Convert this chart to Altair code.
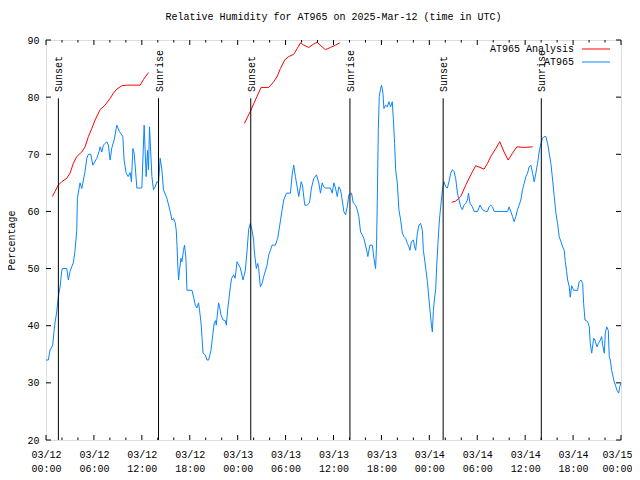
import altair as alt
import pandas as pd

FONT = "Liberation Mono"

# ---- AT965 observations (hours since 2025-03-12 00:00 UTC, RH %) ----
obs_hours = [0.00, 0.29, 0.50, 0.84, 1.00, 1.13, 1.34, 1.54, 1.76, 1.97, 2.04, 2.60, 2.80, 3.01, 3.22, 3.42, 3.64, 3.85, 3.93,
             4.26, 4.48, 4.89, 5.11, 5.31, 5.61, 5.86, 6.36, 6.69, 6.77, 6.99, 7.19, 7.40, 7.61, 7.81, 8.03, 8.24, 8.53, 8.87,
             9.19, 9.62, 9.78, 10.04, 10.29, 10.54, 10.70, 10.88, 11.04, 11.38, 12.00, 12.29, 12.54, 12.71, 12.83, 12.96,
             13.26, 13.46, 13.67, 13.89, 14.09, 14.30, 14.51, 14.71, 15.14, 15.55, 15.77, 15.97, 16.18, 16.31, 16.40, 16.52,
             16.60, 16.72, 16.90, 17.02, 17.22, 17.35, 17.52, 17.65, 18.28, 18.56, 18.69, 18.90, 19.10, 19.23, 19.41, 19.53,
             19.66, 19.94, 20.16, 20.36, 20.66, 20.91, 21.07, 21.24, 21.32, 21.61, 21.74, 21.91, 22.17, 22.45, 22.58, 22.74,
             22.92, 23.08, 23.24, 23.50, 23.67, 23.83, 23.92, 24.34, 24.67, 24.96, 25.18, 25.38, 25.59, 25.80, 26.00, 26.09,
             26.34, 26.51, 26.63, 26.84, 27.06, 27.26, 27.68, 27.89, 28.10, 28.31, 28.72, 29.01, 29.27, 29.57, 29.77, 30.11,
             30.61, 30.82, 31.02, 31.23, 31.45, 31.65, 31.95, 32.11, 32.40, 32.70, 32.99, 33.24, 33.53, 33.87, 34.16, 34.37,
             34.58, 34.78, 35.00, 35.62, 35.84, 36.04, 36.25, 36.47, 36.67, 36.88, 37.09, 37.29, 37.51, 37.72, 37.92, 38.26,
             38.47, 38.76, 38.97, 39.17, 39.39, 39.60, 39.80, 40.01, 40.23, 40.30, 40.56, 40.86, 41.06, 41.27, 41.39, 41.48,
             41.61, 41.73, 41.90, 42.02, 42.19, 42.31, 42.52, 42.74, 42.94, 43.15, 43.36, 43.49, 43.65, 43.78, 43.99, 44.19,
             44.41, 44.62, 44.82, 45.03, 45.25, 45.45, 45.57, 45.75, 46.00, 46.16, 46.29, 46.50, 46.70, 46.91, 47.13, 47.25,
             47.42, 47.58, 47.76, 47.96, 48.08, 48.26, 48.38, 48.51, 48.67, 48.80, 48.92, 49.08, 49.26, 49.42, 49.64, 49.84,
             50.05, 50.26, 50.46, 50.68, 50.89, 51.09, 51.30, 51.52, 51.72, 51.93, 52.14, 52.35, 52.56, 52.77, 52.90, 53.10,
             53.40, 53.60, 54.03, 54.35, 54.65, 55.07, 55.28, 55.48, 55.69, 55.91, 56.11, 57.79, 57.99, 58.20, 58.42, 58.62,
             58.83, 59.04, 59.24, 59.46, 59.67, 59.87, 60.09, 60.30, 60.50, 60.71, 60.93, 61.13, 61.34, 61.55, 61.75, 61.97,
             62.18, 62.38, 62.59, 62.81, 63.01, 63.22, 63.44, 63.64, 63.85, 64.06, 64.26, 64.48, 64.69, 64.89, 65.02, 65.19,
             65.32, 65.52, 65.64, 65.82, 66.07, 66.57, 66.77, 66.98, 67.20, 67.32, 67.49, 67.82, 68.03, 68.15, 68.33, 68.58,
             68.74, 68.99, 69.16, 69.41, 69.58, 69.70, 69.91, 70.03, 70.21, 70.41, 70.53, 70.66, 70.83, 71.09, 71.29, 71.50,
             71.71, 71.84, 72.00]
obs_rh = [34.0, 34.0, 35.7, 36.6, 39.0, 40.5, 42.4, 45.0, 46.8, 49.5, 50.0, 50.0, 48.0, 49.5, 50.3, 51.0, 53.2, 56.7, 62.3,
          65.0, 64.0, 67.0, 69.3, 70.0, 70.0, 68.1, 69.3, 70.7, 71.3, 70.4, 71.6, 71.9, 72.2, 71.6, 69.0, 71.1, 72.5, 75.1,
          74.0, 73.1, 69.0, 66.7, 66.1, 66.8, 65.2, 71.0, 70.2, 64.1, 64.1, 75.1, 66.1, 70.7, 67.3, 74.8,
          66.1, 63.8, 64.3, 65.2, 65.0, 69.3, 67.3, 63.8, 62.3, 60.0, 58.5, 58.8, 58.0, 56.7, 54.1, 50.0,
          48.0, 49.7, 51.8, 51.2, 53.2, 54.1, 51.8, 46.2, 46.2, 44.5, 43.6, 43.1, 44.0, 42.7, 40.5, 38.1,
          35.2, 34.9, 34.0, 34.0, 35.7, 38.7, 40.5, 40.9, 40.1, 44.0, 43.3, 41.9, 41.0, 40.9, 40.1, 42.7,
          44.8, 46.8, 48.3, 48.9, 48.3, 50.0, 51.2, 50.1, 48.0, 49.7, 53.2, 56.9, 57.9, 56.7, 55.0, 52.9,
          50.0, 50.9, 50.0, 46.8, 47.4, 48.6, 50.6, 52.4, 53.2, 54.1, 54.1, 55.3, 57.6, 60.3, 62.0, 63.2,
          63.2, 66.4, 68.1, 66.1, 64.3, 62.6, 65.2, 64.6, 61.1, 61.1, 61.5, 64.1, 65.8, 66.4, 65.0, 63.2,
          65.0, 64.3, 64.1, 64.1, 63.2, 65.0, 64.1, 62.6, 64.3, 63.8, 62.0, 60.0, 59.4, 60.8, 62.9, 63.2,
          61.5, 61.1, 60.3, 59.1, 56.4, 55.9, 55.3, 54.1, 52.7, 52.1, 54.1, 54.1, 51.8, 50.0, 54.1, 61.5,
          74.3, 80.1, 81.5, 82.1, 80.7, 78.0, 78.6, 78.3, 79.2, 78.3, 79.2, 76.3, 71.9, 67.3, 65.0, 60.3,
          58.5, 56.2, 55.6, 55.3, 54.4, 53.8, 53.2, 54.7, 55.0, 53.8, 53.2, 56.2, 57.6, 57.9, 56.7, 53.2,
          51.5, 49.7, 47.7, 44.5, 42.7, 40.1, 38.9, 42.7, 45.0, 46.5, 50.3, 54.4, 58.5, 60.8, 63.8, 65.2,
          64.3, 64.1, 65.2, 66.7, 67.3, 67.0, 65.8, 63.2, 62.0, 60.8, 60.3, 61.1, 61.4, 62.0, 63.2, 61.4,
          60.8, 60.0, 60.0, 61.1, 60.3, 60.0, 60.0, 60.8, 61.1, 60.8, 60.0, 60.0, 60.8, 60.0, 59.1, 58.2,
          59.1, 60.3, 61.1, 62.0, 63.8, 64.9, 66.1, 66.7, 67.8, 68.1, 66.7, 65.2, 66.7, 68.4, 70.4, 71.9,
          72.8, 73.1, 73.1, 71.9, 70.2, 68.4, 65.5, 62.6, 59.7, 57.9, 55.6, 54.7, 53.8, 53.2, 51.2, 49.5,
          48.0, 46.8, 45.0, 47.0, 46.2, 46.2, 47.7, 48.0, 47.4, 43.9, 41.0, 40.7, 39.8, 36.9, 35.2, 37.8,
          37.5, 36.3, 36.9, 37.5, 38.1, 36.6, 35.2, 38.7, 39.8, 39.2, 34.6, 34.0, 32.2, 30.5, 29.6, 28.7,
          28.2, 29.3, 29.9]

# ---- AT965 Analysis (three separate runs) ----
ana1_hours = [0.79, 1.13, 1.54, 1.97, 2.60, 3.01, 3.42, 3.85, 4.48, 4.89, 5.31, 5.73, 6.15, 6.77, 7.40, 8.03, 8.44,
              8.87, 9.50, 10.12, 11.79, 12.21, 12.83]
ana1_rh = [62.6, 63.5, 64.6, 65.2, 65.8, 66.7, 68.4, 69.6, 70.4, 71.3, 73.1, 74.5, 76.0, 77.8, 78.6, 79.8, 80.7,
           81.4, 82.0, 82.1, 82.1, 83.1, 84.3]
ana2_hours = [24.84, 25.59, 26.22, 26.93, 27.89, 28.51, 28.94, 29.35, 29.89, 30.39, 31.02, 31.45, 31.86, 32.28,
              32.90, 33.53, 33.96, 34.58, 35.00, 35.62, 36.25, 36.79]
ana2_rh = [75.4, 77.5, 79.5, 81.7, 81.7, 82.7, 83.6, 85.0, 86.5, 87.1, 87.5, 88.5, 89.5, 89.1,
           88.7, 89.3, 89.6, 88.8, 88.3, 88.7, 89.1, 89.5]
ana3_hours = [50.80, 51.30, 51.93, 52.56, 53.19, 53.81, 54.35, 54.85, 55.28, 55.69, 56.32, 56.82, 57.36, 57.87,
              58.42, 58.96, 59.87, 60.93]
ana3_rh = [61.6, 61.8, 62.6, 64.6, 66.4, 68.0, 67.7, 67.4, 68.4, 69.6, 71.0, 72.2, 70.4, 69.0,
           70.2, 71.3, 71.2, 71.3]

# ---- sun events ----
event_hours = [1.55, 14.09, 25.64, 38.06, 49.73, 62.02]
event_names = ["Sunset", "Sunrise", "Sunset", "Sunrise", "Sunset", "Sunrise"]
event_top = 79.8

# ---- axes ----
x_tick_hours = [0, 6, 12, 18, 24, 30, 36, 42, 48, 54, 60, 66, 72]
x_tick_labels = [["03/12", "00:00"], ["03/12", "06:00"], ["03/12", "12:00"], ["03/12", "18:00"],
                 ["03/13", "00:00"], ["03/13", "06:00"], ["03/13", "12:00"], ["03/13", "18:00"],
                 ["03/14", "00:00"], ["03/14", "06:00"], ["03/14", "12:00"], ["03/14", "18:00"],
                 ["03/15", "00:00"]]
x_minor_hours = [2, 4, 8, 10, 14, 16, 20, 22, 26, 28, 32, 34, 38, 40, 44, 46, 50, 52, 56, 58, 62, 64, 68, 70]
y_ticks = [20, 30, 40, 50, 60, 70, 80, 90]

series_names = ["AT965 Analysis", "AT965"]
series_colors = ["#ff0000", "#0a84ff"]
title_text = "Relative Humidity for AT965 on 2025-Mar-12 (time in UTC)"

W, H = 575, 400

obs_df = pd.DataFrame({"h": obs_hours, "rh": obs_rh})
ana_df = pd.concat([
    pd.DataFrame({"h": ana1_hours, "rh": ana1_rh, "seg": 1}),
    pd.DataFrame({"h": ana2_hours, "rh": ana2_rh, "seg": 2}),
    pd.DataFrame({"h": ana3_hours, "rh": ana3_rh, "seg": 3}),
])
ev_df = pd.DataFrame({"h": event_hours, "name": event_names, "rh": event_top})
xmaj_df = pd.DataFrame({"h": x_tick_hours})
xmin_df = pd.DataFrame({"h": x_minor_hours})
yt_df = pd.DataFrame({"rh": y_ticks})
leg_df = pd.DataFrame({"name": series_names, "color": series_colors})

xs = alt.Scale(domain=[0, 72], nice=False, zero=False)
ys = alt.Scale(domain=[20, 90], nice=False, zero=False)

label_expr = "[" + ",".join(f"['{a}','{b}']" for a, b in x_tick_labels) + "][round(datum.value/6)]"

x_axis = alt.Axis(values=x_tick_hours, labelExpr=label_expr, title=None, grid=False, ticks=False,
                  domain=False, labelFont=FONT, labelFontSize=10, labelColor="black", labelPadding=9,
                  labelLineHeight=14, labelAngle=0, labelOverlap=False, labelFlush=False,
                  labelOffset={"condition": {"test": f"datum.value >= {x_tick_hours[-1]}", "value": -4},
                               "value": 0})
y_axis = alt.Axis(values=y_ticks, title="Percentage", grid=False, ticks=False, domain=False,
                  labelFont=FONT, labelFontSize=10, labelColor="black", labelPadding=7,
                  titleFont=FONT, titleFontSize=10, titleFontWeight="normal", titleColor="black",
                  titlePadding=10)

X = alt.X("h:Q", scale=xs, axis=x_axis)
Y = alt.Y("rh:Q", scale=ys, axis=y_axis)

obs_line = alt.Chart(obs_df).mark_line(color=series_colors[1], strokeWidth=1).encode(x=X, y=Y)

ana_line = alt.Chart(ana_df).mark_line(color=series_colors[0], strokeWidth=1).encode(
    x=X, y=Y, detail="seg:N")

ev_rule = alt.Chart(ev_df).mark_rule(color="black", strokeWidth=1).encode(
    x=X, y=Y, y2=alt.value(H))
ev_text = alt.Chart(ev_df).mark_text(angle=270, align="left", baseline="middle", font=FONT,
                                     fontSize=10, color="black", dy=1).encode(
    x=X, y=alt.value(52), text="name:N")

def xticks(df, length):
    bot = alt.Chart(df).mark_rule(color="black", strokeWidth=1).encode(
        x=X, y=alt.value(H), y2=alt.value(H - length))
    top = alt.Chart(df).mark_rule(color="black", strokeWidth=1).encode(
        x=X, y=alt.value(0), y2=alt.value(length))
    return [bot, top]

yt_left = alt.Chart(yt_df).mark_rule(color="black", strokeWidth=1).encode(
    y=Y, x=alt.value(0), x2=alt.value(5))
yt_right = alt.Chart(yt_df).mark_rule(color="black", strokeWidth=1).encode(
    y=Y, x=alt.value(W), x2=alt.value(W - 5))

leg_layers = []
for i, ypos in enumerate([9, 22]):
    d = leg_df.iloc[[i]]
    leg_layers.append(alt.Chart(d).mark_text(align="right", baseline="middle", font=FONT, fontSize=10,
                                             color="black").encode(
        text="name:N", x=alt.value(528), y=alt.value(ypos)))
    leg_layers.append(alt.Chart(d).mark_rule(color=series_colors[i], strokeWidth=1).encode(
        x=alt.value(536), x2=alt.value(564), y=alt.value(ypos)))

chart = alt.layer(
    ana_line, obs_line, ev_rule, ev_text,
    *xticks(xmaj_df, 5), *xticks(xmin_df, 2.5), yt_left, yt_right,
    *leg_layers,
).properties(
    width=W, height=H,
    autosize=alt.AutoSizeParams(type="none"),
    padding={"left": 38, "top": 32, "right": 11, "bottom": 38},
    title=alt.TitleParams(title_text, font=FONT, fontSize=10, fontWeight="normal", color="black",
                          anchor="middle", offset=13),
).configure_view(stroke="black", strokeWidth=1).configure(background="white")

chart.save("out.html", embed_options={"renderer": "svg", "actions": False})
